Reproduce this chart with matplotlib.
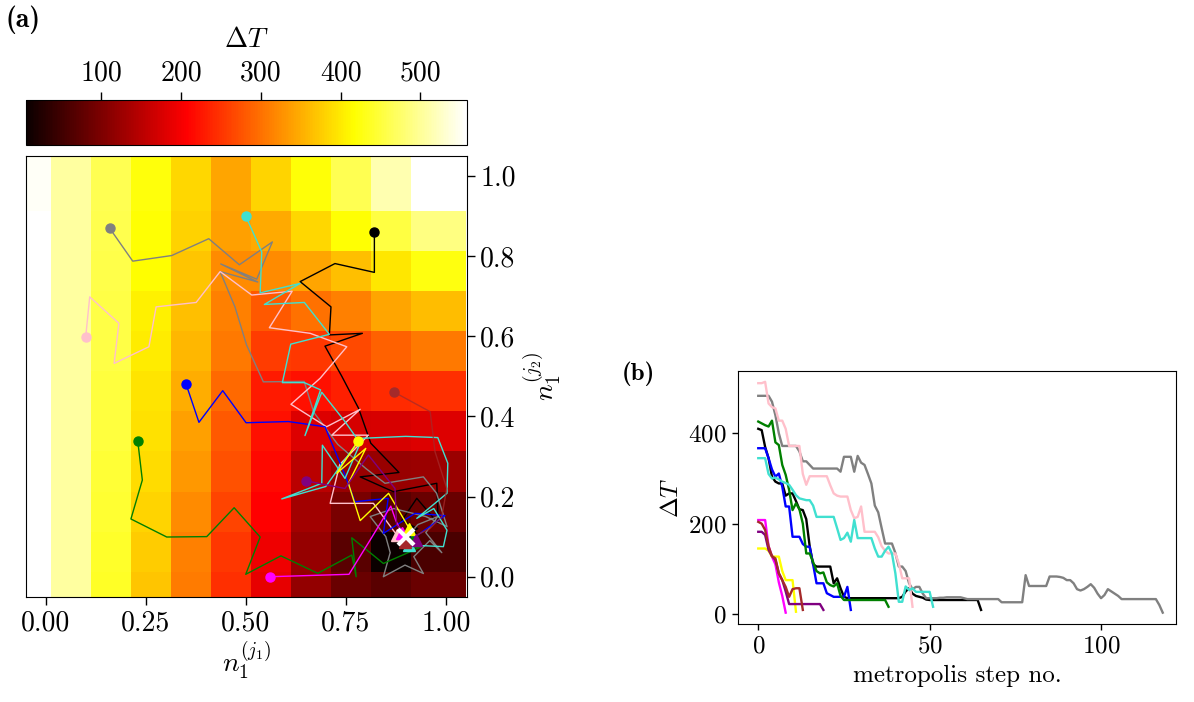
import matplotlib
matplotlib.use("Agg")
import matplotlib.pyplot as plt
import numpy as np

plt.rcParams['font.family'] = ['cmr10', 'DejaVu Serif']
plt.rcParams['mathtext.fontset'] = 'cm'
plt.rcParams['axes.formatter.use_mathtext'] = True
plt.rcParams['axes.unicode_minus'] = False

# ---------------- data: heat map of Delta T over (n1^(j1), n1^(j2)) ----------------
n_edges = [-0.05, 0.0125, 0.1125, 0.2125, 0.3125, 0.4125, 0.5125,
           0.6125, 0.7125, 0.8125, 0.9125, 1.05]
# rows from bottom (n1^(j2) ~ 0) to top (~1), columns from n1^(j1) ~ 0 to ~1
dT_grid = [
    [558, 506, 438, 369, 308, 246, 188, 118, 84, 71, 84],
    [558, 506, 441, 375, 312, 253, 194, 120, 71, 5, 57],
    [558, 506, 444, 382, 322, 264, 207, 132, 97, 71, 84],
    [558, 506, 447, 389, 332, 273, 213, 150, 123, 123, 125],
    [558, 506, 450, 392, 339, 281, 220, 179, 172, 175, 179],
    [558, 506, 452, 395, 350, 293, 228, 220, 233, 241, 246],
    [558, 506, 455, 401, 359, 306, 256, 253, 268, 286, 306],
    [558, 506, 456, 405, 365, 312, 281, 299, 312, 343, 362],
    [558, 506, 458, 416, 370, 322, 321, 343, 365, 398, 426],
    [558, 506, 460, 418, 379, 338, 347, 384, 418, 453, 488],
    [553, 506, 462, 422, 384, 343, 382, 420, 461, 514, 558],
]
cbar_ticks = [100, 200, 300, 400, 500]
x_ticks = [0.0, 0.25, 0.5, 0.75, 1.0]
y_ticks = [0.0, 0.2, 0.4, 0.6, 0.8, 1.0]
minimum_point = (0.9, 0.1)

walker_names = ['black', 'gray', 'pink', 'blue', 'green', 'turquoise',
                'magenta', 'yellow', 'purple', 'brown']

# metropolis walks in the (n1^(j1), n1^(j2)) plane
path_black_x = [0.8215, 0.8215, 0.723, 0.636, 0.713, 0.709, 0.7915, 0.698, 0.74, 0.782,
                0.8125, 0.883, 0.786, 0.869, 0.9775, 0.981, 0.9275, 0.89, 0.93, 0.915]
path_black_y = [0.859, 0.759, 0.781, 0.736, 0.673, 0.603, 0.607, 0.575, 0.50, 0.42,
                0.333, 0.260, 0.249, 0.212, 0.233, 0.133, 0.1955, 0.14, 0.12, 0.112]
path_gray_x = [0.160, 0.2175, 0.315, 0.4075, 0.484, 0.5665, 0.5275, 0.4375, 0.53, 0.436,
               0.473, 0.502, 0.544, 0.646, 0.67, 0.73, 0.80, 0.848, 0.944, 0.977,
               1.003, 0.95, 0.87, 0.811, 0.85, 0.861, 0.844, 0.898, 0.944, 0.92,
               0.96, 0.99, 0.95, 0.98, 0.93, 0.90]
path_gray_y = [0.869, 0.787, 0.801, 0.843, 0.778, 0.835, 0.742, 0.780, 0.735, 0.761,
               0.673, 0.578, 0.486, 0.487, 0.41, 0.33, 0.27, 0.233, 0.249, 0.208,
               0.125, 0.15, 0.17, 0.15, 0.10, 0.06, 0.0, 0.029, 0.008, 0.05,
               0.09, 0.06, 0.11, 0.15, 0.13, 0.095]
path_pink_x = [0.10, 0.11, 0.183, 0.171, 0.258, 0.276, 0.376, 0.436, 0.515, 0.616,
               0.559, 0.661, 0.7525, 0.686, 0.613, 0.702, 0.786, 0.715, 0.8065, 0.735,
               0.711, 0.819, 0.8775]
path_pink_y = [0.5985, 0.698, 0.632, 0.532, 0.5735, 0.673, 0.684, 0.761, 0.7025, 0.712,
               0.621, 0.607, 0.5735, 0.495, 0.43, 0.374, 0.4175, 0.353, 0.353, 0.28,
               0.183, 0.183, 0.104]
path_blue_x = [0.351, 0.383, 0.4425, 0.5008, 0.6065, 0.698, 0.748, 0.773, 0.856, 0.844,
               0.923, 0.998, 0.919]
path_blue_y = [0.48, 0.385, 0.464, 0.384, 0.387, 0.374, 0.254, 0.187, 0.1955, 0.108,
               0.158, 0.1525, 0.096]
path_green_x = [0.23, 0.2415, 0.213, 0.3025, 0.4025, 0.471, 0.536, 0.50, 0.588, 0.68,
                0.765, 0.776, 0.765, 0.844, 0.94, 0.915]
path_green_y = [0.339, 0.241, 0.144, 0.099, 0.10, 0.172, 0.099, 0.006, 0.052, 0.0085,
                0.054, 0.0, 0.097, 0.033, 0.075, 0.09]
path_turquoise_x = [0.50, 0.54, 0.536, 0.636, 0.5465, 0.6465, 0.709, 0.6125, 0.5915, 0.6465,
                    0.687, 0.648, 0.69, 0.748, 0.786, 0.748, 0.6915, 0.69, 0.59, 0.70,
                    0.786, 0.90, 0.98, 1.005, 1.003, 0.9275, 0.97, 1.003, 0.994, 0.909]
path_turquoise_y = [0.8995, 0.81, 0.708, 0.7315, 0.679, 0.684, 0.6045, 0.58, 0.484, 0.484,
                    0.466, 0.352, 0.46, 0.387, 0.333, 0.245, 0.328, 0.233, 0.194, 0.225,
                    0.345, 0.35, 0.347, 0.283, 0.208, 0.1455, 0.17, 0.116, 0.075, 0.079]
path_magenta_x = [0.561, 0.66, 0.758, 0.81, 0.8625, 0.875, 0.89]
path_magenta_y = [0.0, 0.003, 0.006, 0.09, 0.176, 0.14, 0.11]
path_yellow_x = [0.7815, 0.7275, 0.80, 0.7565, 0.786, 0.857, 0.909]
path_yellow_y = [0.339, 0.258, 0.32, 0.233, 0.14, 0.208, 0.12]
path_purple_x = [0.651, 0.748, 0.8065, 0.873, 0.877, 0.925]
path_purple_y = [0.239, 0.22, 0.3035, 0.22, 0.129, 0.0915]
path_brown_x = [0.8715, 0.961, 0.973, 1.0025, 0.99, 0.96, 0.92, 0.898]
path_brown_y = [0.46, 0.4115, 0.312, 0.22, 0.15, 0.12, 0.10, 0.087]

# Delta T along each walk, one value per metropolis step
dT_black = [410, 407, 370, 345, 304, 293, 289, 289, 262, 267, 267, 250, 232, 230, 210, 150,
            110, 105, 105, 105, 105, 105, 68, 79, 57, 38, 35, 35, 35, 35, 35, 35, 35, 35,
            35, 35, 35, 35, 35, 35, 35, 35, 38, 50, 57, 45, 40, 38, 36, 32, 31, 31, 31, 31,
            31, 31, 31, 31, 31, 31, 31, 31, 31, 31, 31, 9]
dT_gray = [483, 483, 483, 483, 470, 440, 400, 372, 372, 372, 372, 372, 360, 338, 338, 330,
           322, 322, 322, 322, 322, 322, 322, 322, 315, 348, 348, 348, 315, 350, 335, 330,
           310, 289, 240, 225, 190, 156, 156, 156, 135, 105, 105, 95, 68, 55, 60, 60, 45,
           35, 35, 35, 35, 36, 36, 37, 37, 37, 37, 37, 35, 33, 33, 33, 33, 33, 33, 33, 33,
           33, 33, 26, 26, 26, 26, 26, 26, 26, 86, 62, 62, 62, 62, 62, 62, 83, 83, 83, 82,
           80, 75, 75, 68, 55, 52, 55, 60, 66, 58, 45, 35, 42, 55, 50, 45, 40, 33, 33, 33,
           33, 33, 33, 33, 33, 33, 33, 33, 20, 3]
dT_pink = [511, 511, 514, 466, 458, 455, 428, 428, 410, 372, 372, 372, 372, 310, 286, 305,
           305, 305, 305, 305, 305, 285, 267, 262, 260, 260, 260, 230, 212, 215, 238, 182,
           182, 182, 182, 170, 150, 140, 134, 134, 134, 112, 79, 79, 79, 16]
dT_blue = [367, 367, 367, 345, 320, 304, 311, 282, 238, 238, 171, 171, 171, 155, 149, 149,
           110, 68, 68, 68, 46, 42, 38, 38, 38, 38, 60, 9]
dT_green = [426, 422, 418, 415, 428, 380, 374, 330, 308, 275, 230, 245, 232, 200, 134, 134,
            115, 95, 90, 92, 70, 64, 61, 68, 40, 31, 31, 31, 31, 31, 31, 31, 31, 31, 31,
            31, 31, 31, 16]
dT_turquoise = [345, 345, 345, 310, 300, 302, 298, 293, 290, 286, 275, 263, 256, 254, 252,
                252, 240, 215, 215, 215, 215, 215, 215, 190, 164, 168, 180, 160, 208, 168,
                168, 168, 168, 168, 145, 127, 127, 140, 149, 134, 90, 27, 27, 61, 53, 57,
                49, 49, 49, 49, 49, 16]
dT_magenta = [208, 208, 208, 150, 127, 110, 70, 40, 3]
dT_yellow = [145, 145, 145, 140, 127, 127, 127, 95, 75, 75, 75, 5]
dT_purple = [182, 182, 175, 142, 128, 120, 90, 75, 50, 22, 22, 22, 22, 22, 22, 22, 22, 22,
             22, 9]
dT_brown = [204, 200, 186, 150, 128, 123, 90, 75, 60, 38, 55, 57, 57, 9]
b_xticks = [0, 50, 100]
b_yticks = [0, 200, 400]

paths = {
    'black': (path_black_x, path_black_y, dT_black),
    'gray': (path_gray_x, path_gray_y, dT_gray),
    'pink': (path_pink_x, path_pink_y, dT_pink),
    'blue': (path_blue_x, path_blue_y, dT_blue),
    'green': (path_green_x, path_green_y, dT_green),
    'turquoise': (path_turquoise_x, path_turquoise_y, dT_turquoise),
    'magenta': (path_magenta_x, path_magenta_y, dT_magenta),
    'yellow': (path_yellow_x, path_yellow_y, dT_yellow),
    'purple': (path_purple_x, path_purple_y, dT_purple),
    'brown': (path_brown_x, path_brown_y, dT_brown),
}

# ---------------- figure ----------------
W, H = 1194, 702
fig = plt.figure(figsize=(W / 100, H / 100), dpi=100)


def box(l, t, r, b):
    return [l / W, 1 - b / H, (r - l) / W, (b - t) / H]


ax = fig.add_axes(box(25.7, 155.7, 467, 597))
cax = fig.add_axes(box(25.7, 100, 466.7, 145))
axb = fig.add_axes(box(737.7, 370.7, 1176.1, 624.3))

grid = np.array(dT_grid, dtype=float)
mesh = ax.pcolormesh(n_edges, n_edges, grid, cmap='hot',
                     vmin=grid.min(), vmax=grid.max(), shading='flat')
ax.set_xlim(-0.05, 1.053)
ax.set_ylim(-0.0506, 1.05)

for name in walker_names:
    px, py, _ = paths[name]
    alpha = 0.75 if name == 'brown' else 1.0
    ax.plot(px, py, color=name, lw=1.0, alpha=alpha, zorder=3)
for name in walker_names:
    px, py, _ = paths[name]
    ax.plot(px[0], py[0], 'o', color=name, ms=6.5, zorder=4)
for name in walker_names:
    px, py, _ = paths[name]
    ax.plot(px[-1], py[-1], '^', color=name, ms=8, zorder=5)
ax.plot(*minimum_point, 'x', color='white', ms=12, mew=3, zorder=6)

ax.set_xticks(x_ticks)
ax.set_xticklabels([f'{v:.2f}' for v in x_ticks])
ax.set_yticks(y_ticks)
ax.set_yticklabels([f'{v:.1f}' for v in y_ticks])
ax.yaxis.tick_right()
ax.yaxis.set_label_position('right')
ax.tick_params(labelsize=20, length=6, width=1)
ax.set_xlabel(r'$n_1^{(j_1)}$', fontsize=20, labelpad=2)
ax.set_ylabel(r'$n_1^{(j_2)}$', fontsize=20, labelpad=4)

cb = fig.colorbar(mesh, cax=cax, orientation='horizontal')
cax.xaxis.set_ticks_position('top')
cax.xaxis.set_label_position('top')
cb.set_ticks(cbar_ticks)
cb.set_ticklabels([str(v) for v in cbar_ticks])
cax.tick_params(labelsize=20, length=6, width=1)
cb.set_label(r'$\Delta T$', fontsize=20, labelpad=10)

# ---------------- panel (b) ----------------
for name in walker_names:
    vals = paths[name][2]
    axb.plot(np.arange(len(vals)), vals, color=name, lw=1.7)
axb.set_xlim(-6, 121.9)
axb.set_ylim(-22.8, 538.6)
axb.set_xticks(b_xticks)
axb.set_yticks(b_yticks)
axb.tick_params(labelsize=18, length=4.5, width=1)
axb.set_xlabel('metropolis step no.', fontsize=18, labelpad=5)
axb.set_ylabel(r'$\Delta T$', fontsize=18, labelpad=4)

fig.text(6 / W, 1 - 5 / H, '(a)', fontsize=20, family='cmb10', va='top', ha='left')
fig.text(622 / W, 1 - 362 / H, '(b)', fontsize=18, family='cmb10', va='top', ha='left')

fig.savefig('out.png', dpi=100)
